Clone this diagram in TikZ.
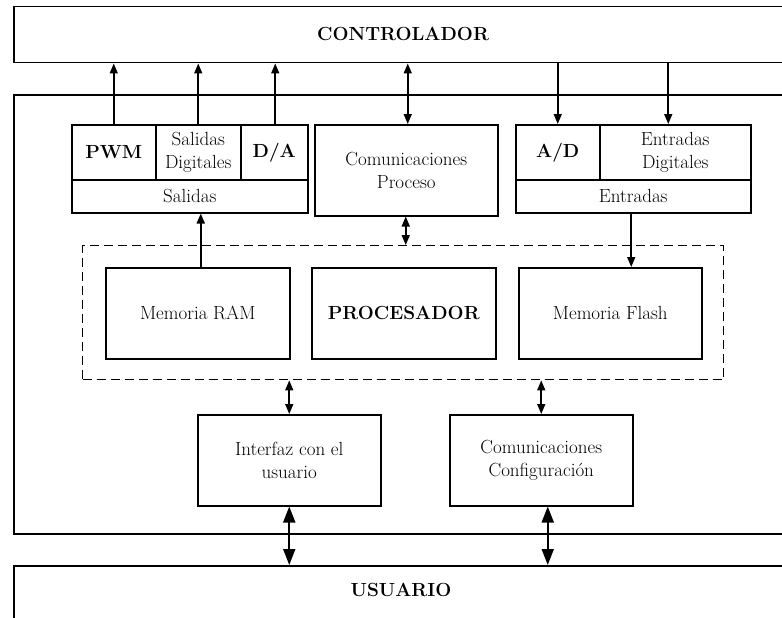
\documentclass[tikz,border=0pt]{standalone}
\usetikzlibrary{arrows.meta}
\begin{document}
\begin{tikzpicture}[x=1pt, y=-1pt,
  every node/.style={font=\fontsize{19}{23}\selectfont},
  box/.style={draw, line width=1.5pt, inner sep=0pt, align=center, anchor=north west},
  bold/.style={font=\fontsize{19}{23}\selectfont\bfseries},
  conn/.style={line width=1.6pt},
  up/.style={conn, -{Triangle[length=10pt,width=8pt]}},
  both/.style={conn, {Triangle[length=10pt,width=8pt]}-{Triangle[length=10pt,width=8pt]}},
  bigboth/.style={conn, line width=1.8pt, {Triangle[length=16pt,width=12pt]}-{Triangle[length=16pt,width=12pt]}},
  group/.style={draw, dashed, dash pattern=on 9pt off 5pt, line width=1.4pt, inner sep=0pt, anchor=north west}
]
\useasboundingbox (0,0) rectangle (782,618);

% outer frames (running past the right edge)
\node[box, minimum width=790pt, minimum height=56pt] (ctrlbox) at (13,6) {};
\node[bold] (ctrl) at (403,34) {CONTROLADOR};
\node[box, minimum width=790pt, minimum height=439pt] (mainbox) at (13,94) {};
\node[box, minimum width=790pt, minimum height=80pt] (usrbox) at (13,565) {};
\node[bold] (usr) at (401,590) {USUARIO};

% outputs
\node[box, minimum width=84pt, minimum height=55pt] (pwm) at (71,124) {\bfseries PWM};
\node[box, minimum width=85pt, minimum height=55pt] (sdig) at (155,124) {Salidas\\Digitales};
\node[box, minimum width=67pt, minimum height=55pt] (da) at (240,124) {\bfseries D/A};
\node[box, minimum width=236pt, minimum height=33pt] (sal) at (71,179) {Salidas};

% process communications
\node[box, minimum width=183pt, minimum height=91pt] (compro) at (314,124) {Comunicaciones\\Proceso};

% inputs
\node[box, minimum width=84pt, minimum height=55pt] (ad) at (515,124) {\bfseries A/D};
\node[box, minimum width=151pt, minimum height=55pt] (edig) at (599,124) {Entradas\\Digitales};
\node[box, minimum width=235pt, minimum height=33pt] (ent) at (515,179) {Entradas};

% processor core
\node[group, minimum width=641pt, minimum height=134pt] (core) at (82,245) {};
\node[box, minimum width=184pt, minimum height=91pt] (ram) at (105,267) {Memoria RAM};
\node[box, minimum width=184pt, minimum height=91pt] (proc) at (311,267) {\bfseries PROCESADOR};
\node[box, minimum width=183pt, minimum height=91pt] (flash) at (518,267) {Memoria Flash};

% user side
\node[box, minimum width=183pt, minimum height=91pt] (ui) at (197,414) {Interfaz con el\\usuario};
\node[box, minimum width=183pt, minimum height=91pt] (cfg) at (449,414) {Comunicaciones\\Configuración};

% controller links
\draw[up] (pwm.north) -- (pwm.north |- ctrlbox.south);
\draw[up] (sdig.north) -- (sdig.north |- ctrlbox.south);
\draw[up] ([xshift=1pt]da.north) -- ([xshift=1pt]da.north |- ctrlbox.south);
\draw[both] ([xshift=1.5pt]compro.north) -- ([xshift=1.5pt]compro.north |- ctrlbox.south);
\draw[up] (ad.north |- ctrlbox.south) -- (ad.north);
\draw[up] ([xshift=-7pt]edig.north |- ctrlbox.south) -- ([xshift=-7pt]edig.north);

% internal links
\draw[both] ([xshift=-0.5pt]compro.south) -- ([xshift=-0.5pt]compro.south |- core.north);
\draw[up] ([xshift=3pt]ram.north) -- ([xshift=3pt]ram.north |- sal.south);
\draw[up] ([xshift=-2pt]ent.south) -- ([xshift=-2pt]ent.south |- flash.north);
\draw[both] (ui.north |- core.south) -- (ui.north);
\draw[both] (cfg.north |- core.south) -- (cfg.north);

% user links
\draw[bigboth] (ui.south) -- (ui.south |- usrbox.north);
\draw[bigboth] ([xshift=6.5pt]cfg.south) -- ([xshift=6.5pt]cfg.south |- usrbox.north);
\end{tikzpicture}
\end{document}
